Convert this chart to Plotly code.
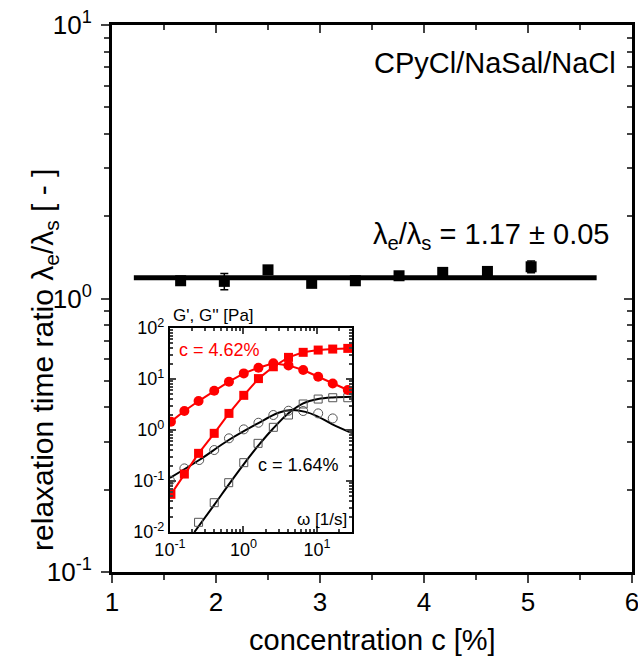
import plotly.graph_objects as go

# ---------------- main data ----------------
conc = [1.66, 2.08, 2.50, 2.92, 3.34, 3.76, 4.18, 4.61, 5.03]
ratio = [1.161, 1.155, 1.273, 1.136, 1.161, 1.211, 1.246, 1.256, 1.306]
ratio_err = [0.01, 0.078, 0.01, 0.01, 0.01, 0.01, 0.01, 0.01, 0.065]
fit_x = [1.21, 5.66]
fit_y = [1.19, 1.19]

# ---------------- inset data ----------------
omega = [0.103, 0.157, 0.245, 0.40, 0.635, 1.01, 1.6, 2.55, 4.1, 6.5, 10.4, 16.4, 26.3]
red_Gpp = [1.46, 2.36, 3.7, 5.9, 8.87, 12.9, 16.7, 20.3, 18.5, 15.0, 11.1, 8.2, 6.1]
red_Gp = [0.0548, 0.137, 0.349, 0.861, 2.12, 4.79, 10.2, 17.4, 26.6, 33.4, 37.0, 38.7, 39.9]

omega_b = [0.1, 0.157, 0.25, 0.40, 0.635, 1.01, 1.6, 2.55, 4.1, 6.5, 10.4, 16.4]
black_Gpp = [0.102, 0.177, 0.258, 0.405, 0.687, 1.03, 1.39, 1.97, 2.39, 2.36, 2.12, 1.69]

omega_bs = [0.1, 0.157, 0.245, 0.40, 0.63, 1.01, 1.58, 2.55, 4.1, 6.5, 10.4, 16.4, 26.3]
black_Gp = [0.0027, 0.0065, 0.0155, 0.0376, 0.0927, 0.229, 0.548, 1.13, 1.97, 3.24, 4.05, 4.3, 4.3]

curve_w_pp = [0.1, 0.25, 0.63, 1.6, 3.0, 4.5, 7.0, 10.0, 16.0, 30.0]
curve_Gpp = [0.115, 0.258, 0.637, 1.37, 2.18, 2.47, 2.27, 1.88, 1.31, 0.87]
curve_w_p = [0.215, 0.4, 0.63, 1.0, 1.6, 2.5, 4.1, 6.5, 10.4, 16.4, 30.0]
curve_Gp = [0.01, 0.034, 0.085, 0.21, 0.5, 1.05, 2.13, 3.33, 4.05, 4.36, 4.5]

FONT = "Liberation Sans, Arial, sans-serif"
RED = "#ff0000"

fig = go.Figure()

# main fit line
fig.add_trace(go.Scatter(x=fit_x, y=fit_y, mode="lines",
                         line=dict(color="black", width=5), showlegend=False, hoverinfo="skip"))
# main points
fig.add_trace(go.Scatter(x=conc, y=ratio, mode="markers",
                         marker=dict(symbol="square", size=11, color="black"),
                         error_y=dict(type="data", array=ratio_err, color="black", thickness=1.5, width=4),
                         showlegend=False))
# invisible trace for mirrored axes
fig.add_trace(go.Scatter(x=[None], y=[None], xaxis="x3", yaxis="y3", showlegend=False, hoverinfo="skip"))

# inset: black fit curves
fig.add_trace(go.Scatter(x=curve_w_pp, y=curve_Gpp, xaxis="x2", yaxis="y2", mode="lines",
                         line=dict(color="black", width=2, shape="spline"), showlegend=False))
fig.add_trace(go.Scatter(x=curve_w_p, y=curve_Gp, xaxis="x2", yaxis="y2", mode="lines",
                         line=dict(color="black", width=2, shape="spline"), showlegend=False))
# inset: black open markers
fig.add_trace(go.Scatter(x=omega_b, y=black_Gpp, xaxis="x2", yaxis="y2", mode="markers",
                         marker=dict(symbol="circle-open", size=9, color="#555", line=dict(width=1)),
                         showlegend=False))
fig.add_trace(go.Scatter(x=omega_bs, y=black_Gp, xaxis="x2", yaxis="y2", mode="markers",
                         marker=dict(symbol="square-open", size=8, color="#555", line=dict(width=1)),
                         cliponaxis=False, showlegend=False))
# inset: red
fig.add_trace(go.Scatter(x=omega, y=red_Gpp, xaxis="x2", yaxis="y2", mode="lines+markers",
                         line=dict(color=RED, width=2), marker=dict(symbol="circle", size=10, color=RED),
                         showlegend=False))
fig.add_trace(go.Scatter(x=omega, y=red_Gp, xaxis="x2", yaxis="y2", mode="lines+markers",
                         line=dict(color=RED, width=2), marker=dict(symbol="square", size=9, color=RED),
                         showlegend=False))

ymain_minor = [m * 10 ** e for e in (-1, 0) for m in range(2, 10)]
yin_minor = [m * 10 ** e for e in (-2, -1, 0, 1) for m in range(2, 10)]
xin_minor = [m * 10 ** e for e in (-1, 0, 1) for m in range(2, 10)]

fig.update_layout(
    width=638, height=657,
    margin=dict(l=112, r=6, t=25, b=85, autoexpand=False),
    paper_bgcolor="white", plot_bgcolor="white",
    font=dict(family=FONT, color="black"),
    xaxis=dict(range=[1, 6], domain=[0, 1], dtick=1, tick0=1, ticks="outside", ticklen=8, tickwidth=2,
               showline=True, linewidth=3, linecolor="black", showgrid=False, zeroline=False,
               tickfont=dict(size=26, family=FONT), ticklabelstandoff=-3, ticklabeloverflow="allow",
               automargin=False,
               minor=dict(dtick=0.5, tick0=1, ticks="outside", ticklen=5, tickwidth=2, showgrid=False)),
    yaxis=dict(type="log", range=[-1, 1], domain=[0, 1],
               tickvals=[0.1, 1, 10], ticktext=["10<sup>-1</sup>", "10<sup>0</sup>", "10<sup>1</sup>"],
               ticks="outside", ticklen=8, tickwidth=2, showline=True, linewidth=3, linecolor="black",
               showgrid=False, zeroline=False, tickfont=dict(size=26, family=FONT), ticklabelstandoff=4,
               ticklabeloverflow="allow", automargin=False,
               minor=dict(tickvals=ymain_minor, ticks="outside", ticklen=5, tickwidth=2, showgrid=False)),
    xaxis3=dict(range=[1, 6], overlaying="x", anchor="y", side="top", dtick=1, tick0=1,
                ticks="inside", ticklen=8, tickwidth=2, showticklabels=False,
                showline=True, linewidth=3, linecolor="black", showgrid=False, zeroline=False,
                minor=dict(dtick=0.5, tick0=1, ticks="inside", ticklen=5, tickwidth=2, showgrid=False)),
    yaxis3=dict(type="log", range=[-1, 1], overlaying="y", anchor="x", side="right",
                tickvals=[0.1, 1, 10], ticks="inside", ticklen=8, tickwidth=2, showticklabels=False,
                showline=True, linewidth=3, linecolor="black", showgrid=False, zeroline=False,
                minor=dict(tickvals=ymain_minor, ticks="inside", ticklen=5, tickwidth=2, showgrid=False)),
    xaxis2=dict(type="log", range=[-1, 1.477], domain=[0.1115, 0.4615], anchor="y2",
                tickvals=[0.1, 1, 10], ticktext=["10<sup>-1</sup>", "10<sup>0</sup>", "10<sup>1</sup>"],
                ticks="inside", ticklen=6, tickwidth=1.5, mirror="allticks",
                showline=True, linewidth=2, linecolor="black", showgrid=False, zeroline=False,
                tickfont=dict(size=18, family=FONT),
                minor=dict(tickvals=xin_minor, ticks="inside", ticklen=3, tickwidth=1.5, showgrid=False)),
    yaxis2=dict(type="log", range=[-2, 2], domain=[0.0731, 0.446], anchor="x2",
                tickvals=[0.01, 0.1, 1, 10, 100],
                ticktext=["10<sup>-2</sup>", "10<sup>-1</sup>", "10<sup>0</sup>", "10<sup>1</sup>", "10<sup>2</sup>"],
                ticks="inside", ticklen=6, tickwidth=1.5, mirror="allticks",
                showline=True, linewidth=2, linecolor="black", showgrid=False, zeroline=False,
                tickfont=dict(size=18, family=FONT),
                minor=dict(tickvals=yin_minor, ticks="inside", ticklen=3, tickwidth=1.5, showgrid=False)),
)

annots = [
    dict(text="CPyCl/NaSal/NaCl", x=0.7365, y=0.9305, size=29, color="black", xa="center"),
    dict(text="λ<sub>e</sub>/λ<sub>s</sub> = 1.17 ± 0.05", x=0.7298, y=0.614, size=29, color="black", xa="center"),
    dict(text="concentration c [%]", x=0.5, y=-0.1243, size=29, color="black", xa="center"),
    dict(text="G', G'' [Pa]", x=0.1135, y=0.4698, size=17, color="black", xa="left"),
    dict(text="c = 4.62%", x=0.125, y=0.4059, size=18, color=RED, xa="left"),
    dict(text="c = 1.64%", x=0.3596, y=0.1956, size=18, color="black", xa="center"),
    dict(text="ω [1/s]", x=0.4038, y=0.0951, size=17, color="black", xa="center"),
]
for a in annots:
    fig.add_annotation(text=a["text"], x=a["x"], y=a["y"], xref="paper", yref="paper",
                       xanchor=a["xa"], yanchor="middle", showarrow=False,
                       font=dict(size=a["size"], color=a["color"], family=FONT))
fig.add_annotation(text="relaxation time ratio λ<sub>e</sub>/λ<sub>s</sub> [ - ]",
                   x=-0.129, y=0.3876, xref="paper", yref="paper", textangle=-90,
                   xanchor="center", yanchor="middle", showarrow=False,
                   font=dict(size=30, color="black", family=FONT))

fig.write_html("out.html")
